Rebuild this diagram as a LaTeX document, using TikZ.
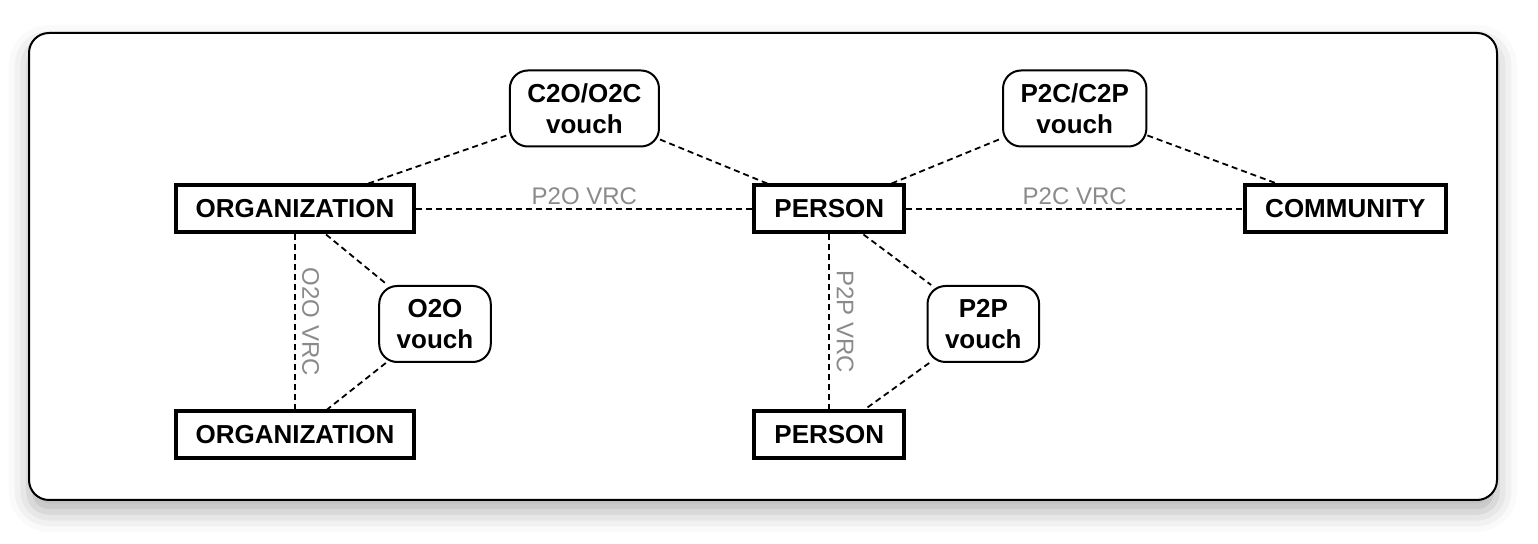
\documentclass[tikz,border=0pt]{standalone}
\usepackage{fontspec}
\setmainfont{Liberation Sans}
\usepackage{tikz}
\usetikzlibrary{positioning, calc, shadows.blur}
\definecolor{lineMain}{RGB}{0,0,0}
\definecolor{labelGray}{RGB}{138,138,138}
\tikzset{
  entityNode/.style={
    draw=lineMain,
    line width=2pt,
    align=center,
    inner xsep=10pt,
    inner ysep=3pt,
    minimum height=23.5pt,
    font=\fontsize{13}{15.5}\selectfont\bfseries,
    fill=white
  },
  vouchNode/.style={
    draw=lineMain,
    line width=1pt,
    rounded corners=9pt,
    align=center,
    inner xsep=8.75pt,
    inner ysep=3pt,
    minimum height=38pt,
    font=\fontsize{13}{15.5}\selectfont\bfseries,
    fill=white
  },
  vrcLink/.style={draw=lineMain, line width=0.85pt, dash pattern=on 3pt off 2pt},
  vouchLink/.style={draw=lineMain, line width=0.9pt, dash pattern=on 3pt off 2pt},
  vrcLabel/.style={midway, anchor=south, inner sep=1.7pt, text=labelGray, font=\fontsize{12}{14}\selectfont},
  vrcSideLabel/.style={midway, rotate=-90, anchor=south, inner sep=3.2pt, text=labelGray, font=\fontsize{12}{14}\selectfont},
  frameBox/.style={draw=lineMain, line width=1pt, rounded corners=10pt, fill=white,
    blur shadow={shadow xshift=0pt, shadow yshift=-6pt, shadow blur radius=10pt, shadow opacity=30}}
}

\begin{document}
\begin{tikzpicture}[x=0.5pt, y=-0.5pt]
  \useasboundingbox (0,0) rectangle (1538,544);
  \draw[frameBox] (29,33) rectangle (1497,500);

  % entities
  \node[entityNode] (orgTop) at (295,209) {ORGANIZATION};
  \node[entityNode, right=168pt of orgTop] (person) {PERSON};
  \node[entityNode, right=168.5pt of person] (community) {COMMUNITY};
  \node[entityNode, below=87.5pt of orgTop] (orgBot) {ORGANIZATION};
  \node[entityNode, below=87.5pt of person] (personBot) {PERSON};

  % vouches
  \node[vouchNode] (c2o) at ($(orgTop.east)!0.5!(person.west)+(0,50.25pt)$) {C2O/O2C\\vouch};
  \node[vouchNode] (p2c) at ($(person.east)!0.5!(community.west)+(0,50.25pt)$) {P2C/C2P\\vouch};
  \node[vouchNode] (o2o) at ($(orgTop)!0.5!(orgBot)+(70pt,-1pt)$) {O2O\\vouch};
  \node[vouchNode] (p2p) at ($(person)!0.5!(personBot)+(77pt,-1pt)$) {P2P\\vouch};

  \draw[vrcLink] (orgTop) -- node[vrcLabel]{P2O VRC} (person);
  \draw[vrcLink] (person) -- node[vrcLabel]{P2C VRC} (community);
  \draw[vrcLink] (orgTop) -- node[vrcSideLabel]{O2O VRC} (orgBot);
  \draw[vrcLink] (person) -- node[vrcSideLabel]{P2P VRC} (personBot);

  \draw[vouchLink] (orgTop) -- (c2o);
  \draw[vouchLink] (c2o) -- (person);
  \draw[vouchLink] (person) -- (p2c);
  \draw[vouchLink] (p2c) -- (community);
  \draw[vouchLink] (orgTop) -- (o2o);
  \draw[vouchLink] (o2o) -- (orgBot);
  \draw[vouchLink] (person) -- (p2p);
  \draw[vouchLink] (p2p) -- (personBot);
\end{tikzpicture}
\end{document}
